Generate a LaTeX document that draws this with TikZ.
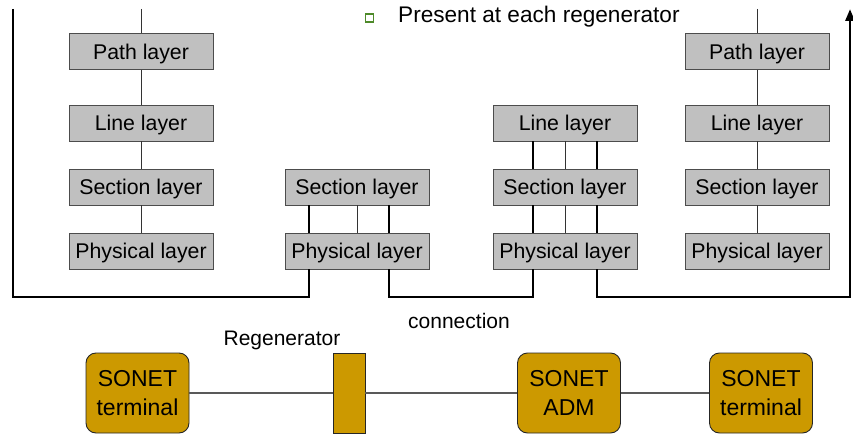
\documentclass[tikz,border=0pt]{standalone}
\usepackage{fontspec}
\setmainfont{Liberation Sans}
\usetikzlibrary{calc,arrows.meta}
\definecolor{sonetgold}{HTML}{CC9900}
\definecolor{layergray}{HTML}{C0C0C0}
\definecolor{bulletgreen}{HTML}{4E8A2A}

\begin{document}
\begin{tikzpicture}[x=1pt,y=-1pt,
  layerbox/.style={draw=black!70,fill=layergray,line width=0.9pt,
    minimum width=144pt,minimum height=36pt,inner sep=0pt,
    text depth=0pt,font=\fontsize{21.3}{25}\selectfont},
  thinlink/.style={draw=black!80,line width=0.9pt},
  boldlink/.style={draw=black,line width=2.7pt},
  devbox/.style={draw=black!85,fill=sonetgold,line width=0.9pt,
    rounded corners=10pt,minimum width=103pt,minimum height=80pt,
    inner sep=0pt,align=center,font=\fontsize{23}{29}\selectfont},
  regenbox/.style={draw=black!85,fill=sonetgold,line width=0.9pt,
    minimum width=32pt,minimum height=80pt,inner sep=0pt},
  wire/.style={draw=black!65,line width=1.1pt},
  lbl/.style={font=\fontsize{21}{25}\selectfont,inner sep=0pt}]

\useasboundingbox (0,0) rectangle (853,435);

% bullet line at the top
\node[draw=bulletgreen,fill=white,line width=1.1pt,minimum size=8pt,inner sep=0pt] (bullet) at (369.5,18) {};
\node[anchor=base west,inner sep=0pt,font=\fontsize{22.6}{26}\selectfont] (present) at (398,23) {Present at each regenerator};

% end terminal, left
\node[layerbox] (pa1) at (141,51.5) {Path layer};
\node[layerbox] (l1)  at (141,123)  {Line layer};
\node[layerbox] (s1)  at (141,187)  {Section layer};
\node[layerbox] (p1)  at (141,251)  {Physical layer};

% regenerator
\node[layerbox] (s2)  at (357,187)  {Section layer};
\node[layerbox] (p2)  at (357,251)  {Physical layer};

% add/drop multiplexer
\node[layerbox] (l3)  at (565,123)  {Line layer};
\node[layerbox] (s3)  at (565,187)  {Section layer};
\node[layerbox] (p3)  at (565,251)  {Physical layer};

% end terminal, right
\node[layerbox] (pa4) at (757,51.5) {Path layer};
\node[layerbox] (l4)  at (757,123)  {Line layer};
\node[layerbox] (s4)  at (757,187)  {Section layer};
\node[layerbox] (p4)  at (757,251)  {Physical layer};

% stack links
\coordinate (t1) at (141,9);
\coordinate (t4) at (757,9);
\draw[thinlink] (t1) -- (pa1.north);
\draw[thinlink] (pa1) -- (l1) (l1) -- (s1) (s1) -- (p1);
\draw[thinlink] (t4) -- (pa4.north);
\draw[thinlink] (pa4) -- (l4) (l4) -- (s4) (s4) -- (p4);
\draw[thinlink] (s2.south) -- (p2.north);
\draw[thinlink] (l3.south) -- (s3.north) (s3.south) -- (p3.north);

% signal path
\coordinate (lt) at (13,9);
\coordinate (rt) at (850,9);
\coordinate (d2l) at (309,297);
\coordinate (d2r) at (389,297);
\coordinate (d3l) at (533,297);
\coordinate (d3r) at (597,297);
\coordinate (corner) at (850,297);

\draw[boldlink] (lt) |- (d2l) -- (d2l |- p2.south);
\draw[boldlink] (d2l |- s2.south) -- (d2l |- p2.north);
\draw[boldlink] (d2r |- s2.south) -- (d2r |- p2.north);
\draw[boldlink] (d2r |- p2.south) -- (d2r) -- (d3l) -- (d3l |- p3.south);
\draw[boldlink] (d3l |- l3.south) -- (d3l |- s3.north);
\draw[boldlink] (d3l |- s3.south) -- (d3l |- p3.north);
\draw[boldlink] (d3r |- l3.south) -- (d3r |- s3.north);
\draw[boldlink] (d3r |- s3.south) -- (d3r |- p3.north);
\draw[boldlink,-{Triangle[length=12pt,width=9pt]}] (d3r |- p3.south) -- (d3r) -- (corner) -- (rt);

% labels
\node[lbl] (conn) at (459,321) {connection};
\node[lbl] (reglbl) at (282,340) {Regenerator};

% network elements
\node[devbox] (term1) at (137.5,393) {SONET\\terminal};
\node[regenbox] (regen) at (349,393) {};
\node[devbox] (adm) at (569,393) {SONET\\ADM};
\node[devbox] (term2) at (761,393) {SONET\\terminal};

\draw[wire] (term1) -- (regen);
\draw[wire] (regen) -- (adm);
\draw[wire] (adm) -- (term2);
\end{tikzpicture}
\end{document}
